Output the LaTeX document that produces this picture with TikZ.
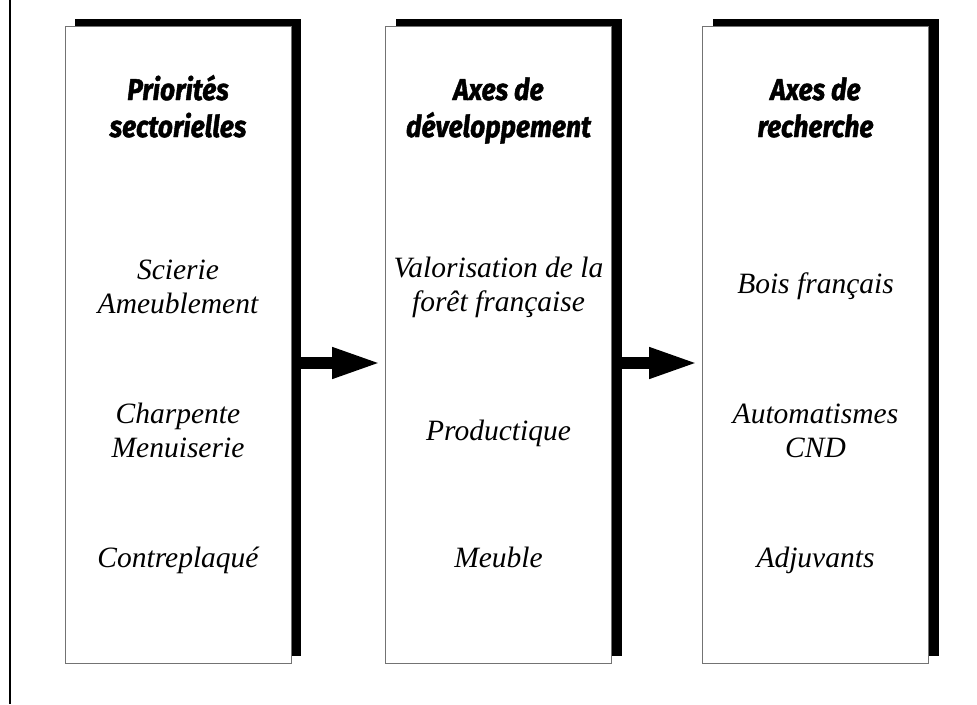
\documentclass[tikz,border=0pt]{standalone}
\usepackage{fontspec}
\setmainfont{Liberation Serif}
\newfontfamily\headfont[BoldItalicFeatures={FakeBold=1.6}]{Fira Sans}
\usetikzlibrary{arrows.meta,shadows}

\tikzset{
  panel/.style={draw=black!55, line width=0.8pt, fill=white, inner sep=0pt,
    minimum width=226pt, minimum height=637pt,
    drop shadow={shadow xshift=10pt, shadow yshift=7pt, fill=black, opacity=1}},
  head/.style={font=\headfont\bfseries\itshape\fontsize{30}{37}\selectfont,
    align=center, anchor=base, xscale=.88},
  item/.style={font=\itshape\fontsize{29.5}{34}\selectfont, align=center, anchor=base},
  flow/.style={line width=12pt, -{Triangle[length=50pt,width=28pt]}}
}

\begin{document}
\begin{tikzpicture}[x=1pt,y=-1pt]
\useasboundingbox (0,0) rectangle (977,704);
\draw[line width=2pt] (10,0) -- (10,704);
% the three columns
\node[panel] (prio) at (178,344.5) {};
\node[panel] (dev) at (498.5,344.5) {};
\node[panel] (rech) at (815.5,344.5) {};
\draw[flow] ([shift={(9pt,-18.5pt)}]prio.east) -- ([shift={(-3pt,-18.5pt)}]dev.west);
\draw[flow] ([shift={(9pt,-18.5pt)}]dev.east) -- ([shift={(-3pt,-18.5pt)}]rech.west);
% first column
\node[head] (prioT) at (178,137) {Priorités\\sectorielles};
\node[item] (prioA) at (178,313) {Scierie\\Ameublement};
\node[item] (prioB) at (178,457) {Charpente\\Menuiserie};
\node[item] (prioC) at (178,567) {Contreplaqué};
% second column
\node[head] (devT) at (498.5,137) {Axes de\\développement};
\node[item] (devA) at (498.5,311) {Valorisation de la\\forêt française};
\node[item] (devB) at (498.5,440) {Productique};
\node[item] (devC) at (498.5,567) {Meuble};
% third column
\node[head] (rechT) at (815.5,137) {Axes de\\recherche};
\node[item] (rechA) at (815.5,293) {Bois français};
\node[item] (rechB) at (815.5,457) {Automatismes\\CND};
\node[item] (rechC) at (815.5,567) {Adjuvants};
\end{tikzpicture}
\end{document}
